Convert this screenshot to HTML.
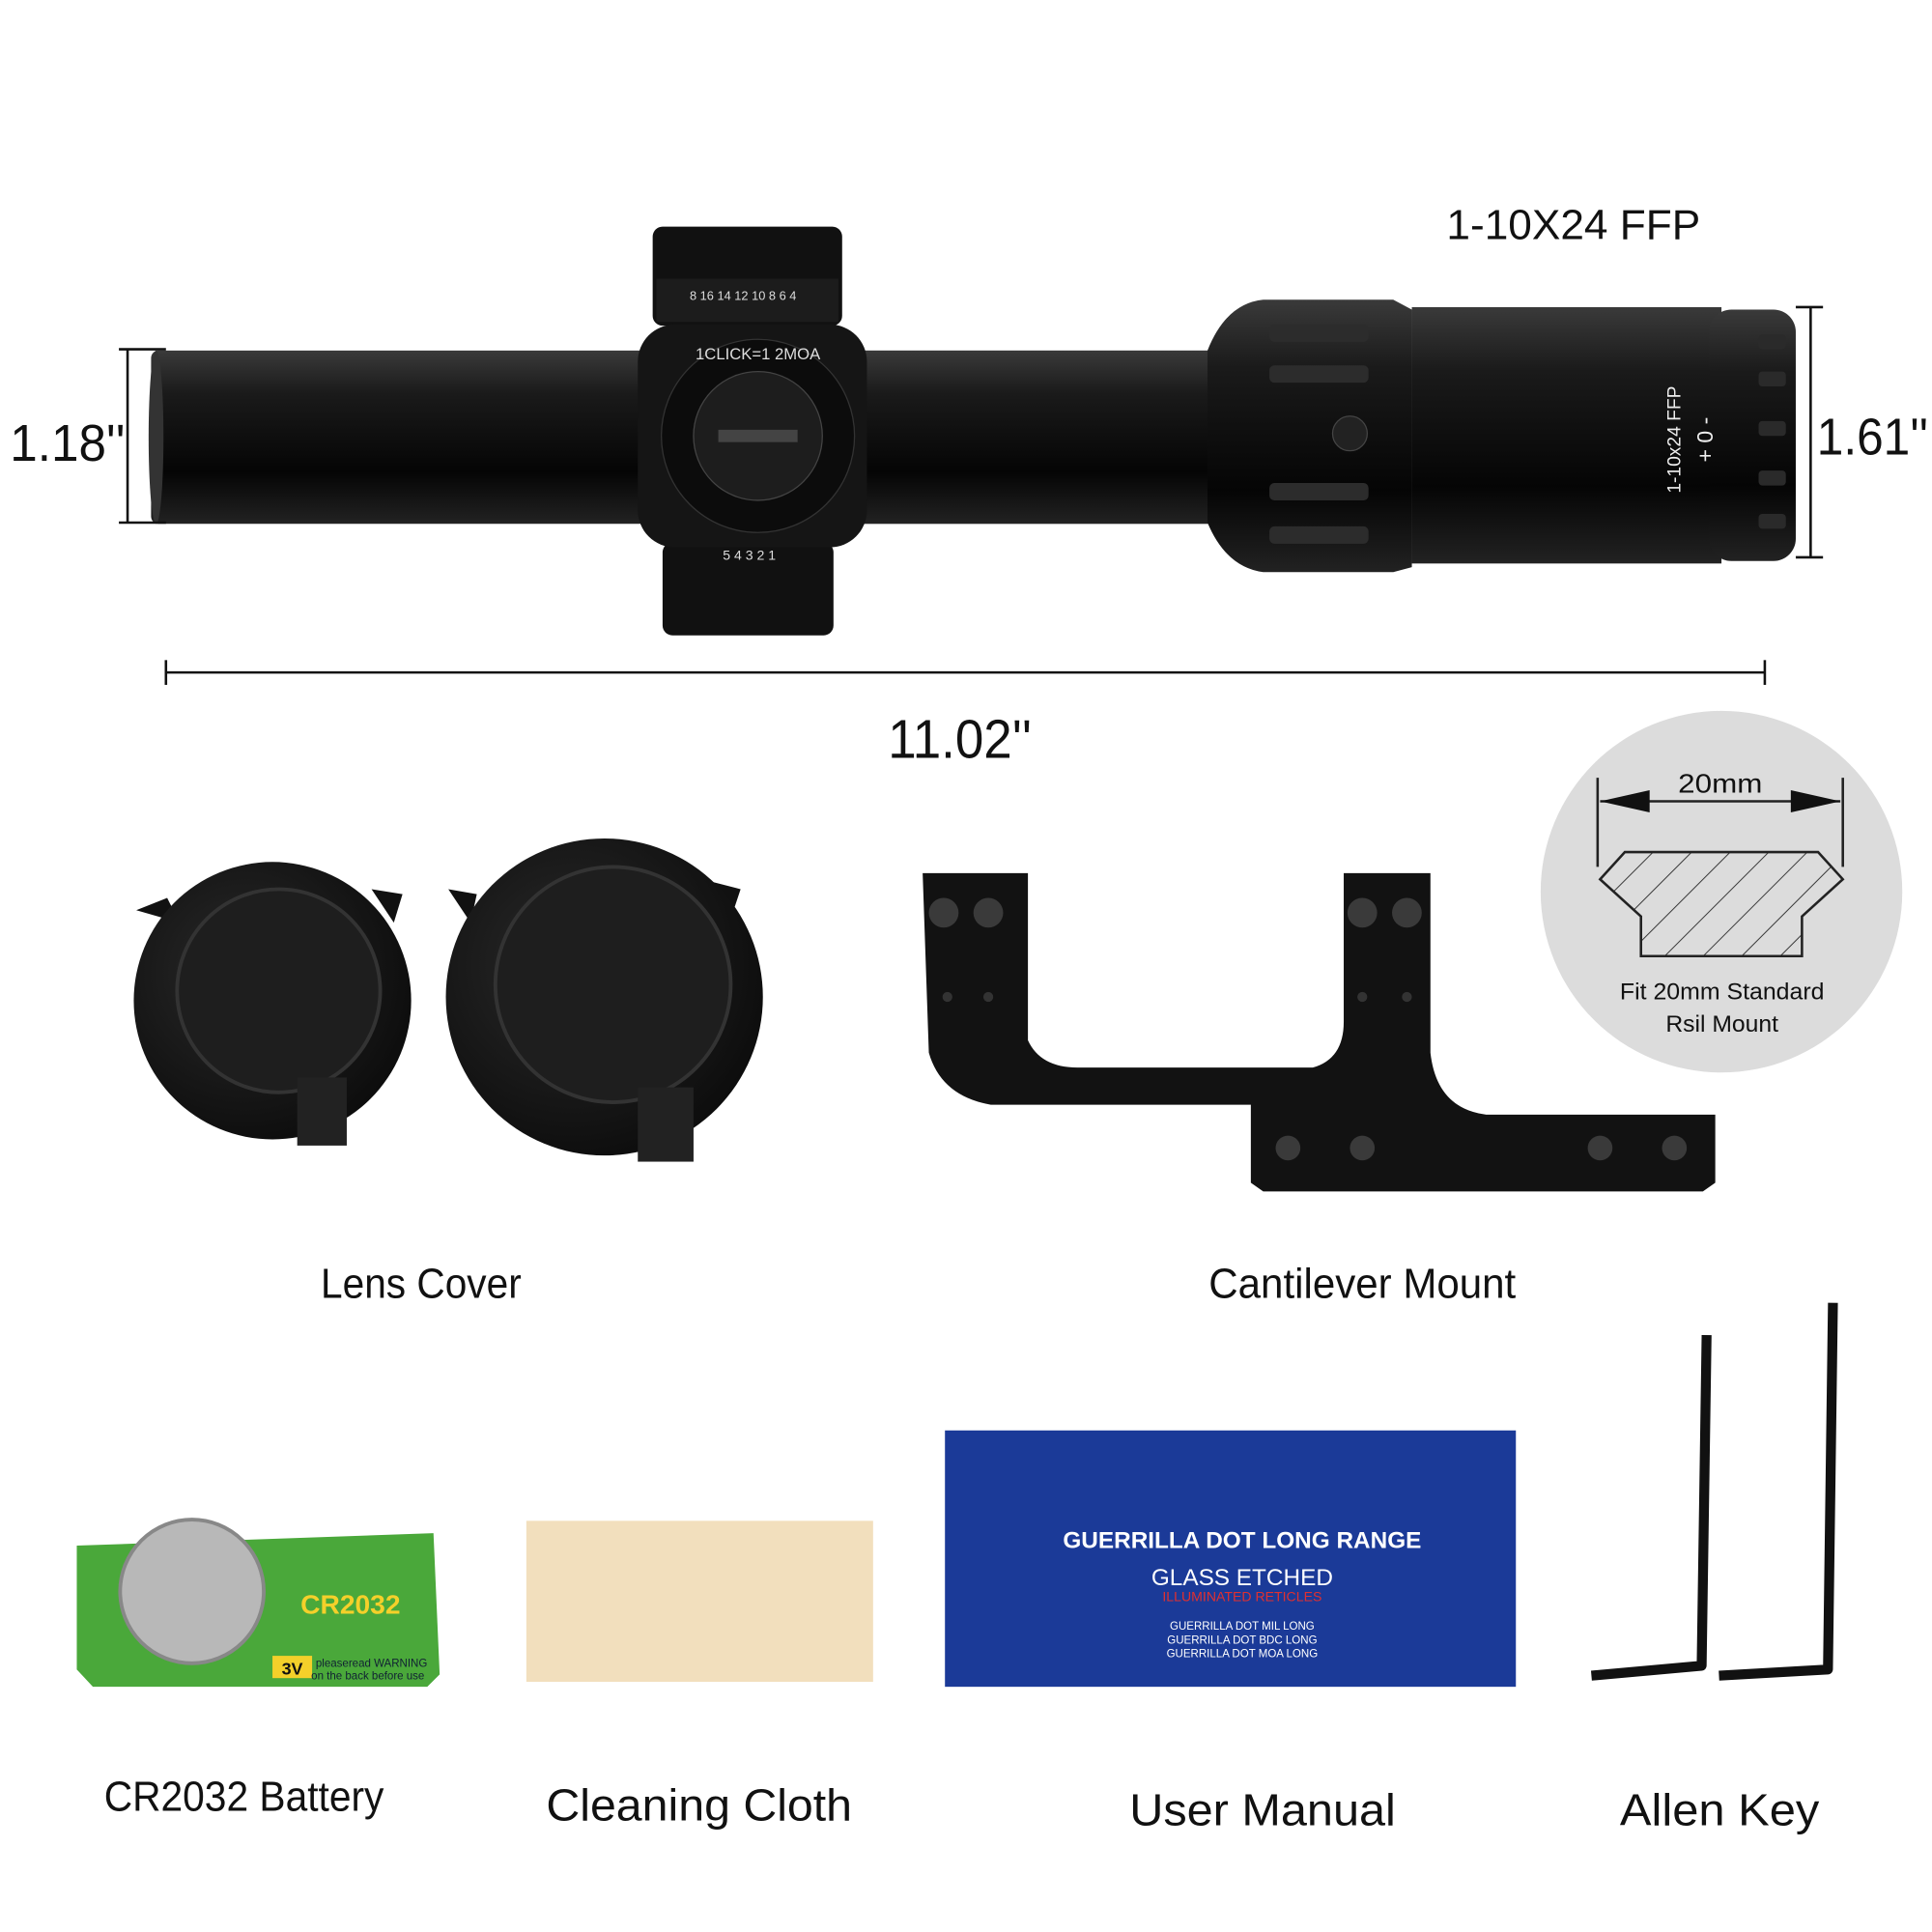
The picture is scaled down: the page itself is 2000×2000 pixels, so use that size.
<!DOCTYPE html>
<html><head><meta charset="utf-8"><style>
html,body{margin:0;padding:0;background:#fff;}
svg{display:block;}
text{font-family:"Liberation Sans Narrow","Liberation Sans",sans-serif;fill:#111;}
</style></head><body>
<svg width="2000" height="2000" viewBox="0 0 1560 1560" xmlns="http://www.w3.org/2000/svg">
<defs>
<linearGradient id="tube" x1="0" y1="0" x2="0" y2="1">
<stop offset="0" stop-color="#3a3a3a"/><stop offset="0.25" stop-color="#1a1a1a"/><stop offset="0.7" stop-color="#050505"/><stop offset="1" stop-color="#222"/>
</linearGradient>
<radialGradient id="cap" cx="0.4" cy="0.4" r="0.7"><stop offset="0" stop-color="#2a2a2a"/><stop offset="1" stop-color="#0a0a0a"/></radialGradient>
<pattern id="hatch" width="22" height="22" patternUnits="userSpaceOnUse" patternTransform="rotate(45)"><line x1="0" y1="0" x2="0" y2="22" stroke="#333" stroke-width="1.5"/></pattern>
</defs>

<!-- SCOPE -->
<rect x="122" y="283" width="400" height="140" rx="6" fill="url(#tube)"/>
<ellipse cx="126" cy="353" rx="6" ry="70" fill="#333"/>
<rect x="690" y="283" width="300" height="140" fill="url(#tube)"/>
<path d="M975 283 Q990 245 1020 242 L1125 242 L1140 250 L1140 458 L1125 462 L1020 462 Q990 458 975 422 Z" fill="url(#tube)"/>
<g fill="#2c2c2c">
<rect x="1025" y="262" width="80" height="14" rx="4"/><rect x="1025" y="295" width="80" height="14" rx="4"/>
<rect x="1025" y="390" width="80" height="14" rx="4"/><rect x="1025" y="425" width="80" height="14" rx="4"/>
</g>
<circle cx="1090" cy="350" r="14" fill="#222" stroke="#444"/>
<rect x="1140" y="248" width="250" height="207" fill="url(#tube)"/>
<rect x="1380" y="250" width="70" height="203" rx="18" fill="url(#tube)"/>
<g fill="#2a2a2a"><rect x="1420" y="270" width="22" height="12" rx="3"/><rect x="1420" y="300" width="22" height="12" rx="3"/><rect x="1420" y="340" width="22" height="12" rx="3"/><rect x="1420" y="380" width="22" height="12" rx="3"/><rect x="1420" y="415" width="22" height="12" rx="3"/></g>
<text x="1357" y="355" font-size="15" style="fill:#eee" transform="rotate(-90 1357 355)" text-anchor="middle">1-10x24 FFP</text>
<text x="1383" y="355" font-size="18" style="fill:#eee" transform="rotate(-90 1383 355)" text-anchor="middle">+ 0 -</text>
<!-- turret -->
<rect x="527" y="183" width="153" height="80" rx="8" fill="#111"/>
<rect x="530" y="225" width="147" height="35" fill="#1c1c1c"/>
<text x="600" y="242" font-size="10" text-anchor="middle" style="fill:#ddd">8 16 14 12 10 8 6 4</text>
<rect x="535" y="438" width="138" height="75" rx="8" fill="#111"/>
<text x="605" y="452" font-size="11" text-anchor="middle" style="fill:#ddd">5  4  3  2  1</text>
<rect x="515" y="262" width="185" height="180" rx="30" fill="#151515"/>
<circle cx="612" cy="352" r="78" fill="#0c0c0c" stroke="#333"/>
<circle cx="612" cy="352" r="52" fill="#1d1d1d" stroke="#444"/>
<rect x="580" y="347" width="64" height="10" fill="#444"/>
<text x="612" y="290" font-size="13" text-anchor="middle" style="fill:#ddd">1CLICK=1 2MOA</text>
<!-- dimensions -->
<g stroke="#111" stroke-width="2" fill="none">
<line x1="103" y1="282" x2="103" y2="422"/><line x1="96" y1="282" x2="134" y2="282"/><line x1="96" y1="422" x2="134" y2="422"/>
<line x1="1462" y1="248" x2="1462" y2="450"/><line x1="1450" y1="248" x2="1472" y2="248"/><line x1="1450" y1="450" x2="1472" y2="450"/>
<line x1="134" y1="543" x2="1425" y2="543"/><line x1="134" y1="533" x2="134" y2="553"/><line x1="1425" y1="533" x2="1425" y2="553"/>
</g>
<text x="8" y="372" font-size="42" textLength="93" lengthAdjust="spacingAndGlyphs">1.18''</text>
<text x="1467" y="367" font-size="42" textLength="90" lengthAdjust="spacingAndGlyphs">1.61''</text>
<text x="717" y="612" font-size="44" textLength="116" lengthAdjust="spacingAndGlyphs">11.02''</text>
<text x="1168" y="193" font-size="34" textLength="205" lengthAdjust="spacingAndGlyphs">1-10X24 FFP</text>

<!-- rail circle -->
<circle cx="1390" cy="720" r="146" fill="#dcdcdc"/>
<g stroke="#222" stroke-width="2" fill="none">
<line x1="1290" y1="628" x2="1290" y2="700"/><line x1="1488" y1="628" x2="1488" y2="700"/>
<line x1="1292" y1="647" x2="1486" y2="647"/>
</g>
<polygon points="1292,647 1332,638 1332,656" fill="#111"/><polygon points="1486,647 1446,638 1446,656" fill="#111"/>
<text x="1355" y="640" font-size="22" textLength="68" lengthAdjust="spacingAndGlyphs">20mm</text>
<path d="M1292 710 L1312 688 L1468 688 L1488 710 L1455 740 L1455 772 L1325 772 L1325 740 Z" fill="url(#hatch)" stroke="#222" stroke-width="2"/>
<text x="1308" y="807" font-size="19" textLength="165" lengthAdjust="spacingAndGlyphs">Fit 20mm Standard</text>
<text x="1345" y="833" font-size="19" textLength="91" lengthAdjust="spacingAndGlyphs">Rsil Mount</text>

<!-- lens covers -->
<g>
<path d="M110 735 L135 725 L145 745 Z" fill="#111"/><path d="M300 718 L325 722 L318 745 Z" fill="#111"/>
<circle cx="220" cy="808" r="112" fill="url(#cap)"/>
<circle cx="225" cy="800" r="82" fill="#1e1e1e" stroke="#333" stroke-width="3"/>
<rect x="240" y="870" width="40" height="55" fill="#222"/>
<path d="M362 718 L385 722 L380 745 Z" fill="#111"/><path d="M575 712 L598 718 L590 742 Z" fill="#111"/>
<circle cx="488" cy="805" r="128" fill="url(#cap)"/>
<circle cx="495" cy="795" r="95" fill="#1e1e1e" stroke="#333" stroke-width="3"/>
<rect x="515" y="878" width="45" height="60" fill="#222"/>
</g>
<text x="259" y="1048" font-size="34" textLength="162" lengthAdjust="spacingAndGlyphs">Lens Cover</text>

<!-- mount -->
<g fill="#121212">
<path d="M745 705 L830 705 L830 840 Q840 862 870 862 L1060 862 Q1085 855 1085 825 L1085 705 L1155 705 L1155 850 Q1160 895 1200 900 L1385 900 L1385 955 L1375 962 L1020 962 L1010 955 L1010 892 L800 892 Q760 885 750 850 Z"/>
</g>
<g fill="#3a3a3a"><circle cx="762" cy="737" r="12"/><circle cx="798" cy="737" r="12"/><circle cx="1100" cy="737" r="12"/><circle cx="1136" cy="737" r="12"/>
<circle cx="1040" cy="927" r="10"/><circle cx="1100" cy="927" r="10"/><circle cx="1292" cy="927" r="10"/><circle cx="1352" cy="927" r="10"/></g>
<g fill="#333"><circle cx="765" cy="805" r="4"/><circle cx="798" cy="805" r="4"/><circle cx="1100" cy="805" r="4"/><circle cx="1136" cy="805" r="4"/></g>
<text x="976" y="1048" font-size="34" textLength="248" lengthAdjust="spacingAndGlyphs">Cantilever Mount</text>

<!-- battery -->
<path d="M62 1248 L350 1238 L355 1352 L345 1362 L75 1362 L62 1348 Z" fill="#4aa83a"/>
<circle cx="155" cy="1285" r="58" fill="#b8b8b8" stroke="#888" stroke-width="3"/>
<text x="283" y="1303" font-size="22" font-weight="bold" text-anchor="middle" style="fill:#f4d02a">CR2032</text>
<rect x="220" y="1337" width="32" height="18" fill="#f4d02a"/>
<text x="236" y="1352" font-size="14" font-weight="bold" text-anchor="middle">3V</text>
<text x="300" y="1346" font-size="9" text-anchor="middle" style="fill:#123">pleaseread WARNING</text>
<text x="297" y="1356" font-size="9" text-anchor="middle" style="fill:#123">on the back before use</text>
<text x="84" y="1462" font-size="34" textLength="226" lengthAdjust="spacingAndGlyphs">CR2032 Battery</text>

<!-- cloth -->
<rect x="425" y="1228" width="280" height="130" fill="#f2dfbd"/>
<text x="441" y="1470" font-size="36" textLength="247" lengthAdjust="spacingAndGlyphs">Cleaning Cloth</text>

<!-- manual -->
<rect x="763" y="1155" width="461" height="207" fill="#1b3a98"/>
<text x="1003" y="1250" font-size="19" font-weight="bold" text-anchor="middle" style="fill:#fff">GUERRILLA DOT LONG RANGE</text>
<text x="1003" y="1280" font-size="19" text-anchor="middle" style="fill:#fff">GLASS ETCHED</text>
<text x="1003" y="1293" font-size="11" text-anchor="middle" style="fill:#e03030">ILLUMINATED RETICLES</text>
<text x="1003" y="1316" font-size="9" text-anchor="middle" style="fill:#fff">GUERRILLA DOT MIL LONG</text>
<text x="1003" y="1327" font-size="9" text-anchor="middle" style="fill:#fff">GUERRILLA DOT BDC LONG</text>
<text x="1003" y="1338" font-size="9" text-anchor="middle" style="fill:#fff">GUERRILLA DOT MOA LONG</text>
<text x="912" y="1474" font-size="36" textLength="215" lengthAdjust="spacingAndGlyphs">User Manual</text>

<!-- allen keys -->
<g stroke="#111" stroke-width="8" fill="none" stroke-linejoin="round">
<path d="M1378 1078 L1374 1345 L1285 1353"/>
<path d="M1480 1052 L1476 1348 L1388 1353"/>
</g>
<text x="1308" y="1474" font-size="36" textLength="161" lengthAdjust="spacingAndGlyphs">Allen Key</text>
</svg>
</body></html>
